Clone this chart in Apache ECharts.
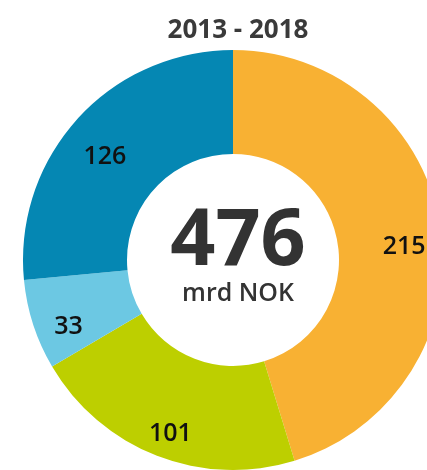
<!DOCTYPE html>
<html>
<head>
<meta charset="utf-8">
<script src="https://cdn.jsdelivr.net/npm/echarts@6/dist/echarts.min.js"></script>
<style>
  html, body { margin: 0; padding: 0; background: #fff; }
  #chart { width: 427px; height: 470px; }
</style>
</head>
<body>
<div id="chart"></div>
<script>
// data
var categories = ['A', 'B', 'C', 'D']
var values = [215, 101, 33, 126]
var colors = ['#F8B133', '#BDCF00', '#6CC8E3', '#0587B3']
var totalLabel = '476'
var unitLabel = 'mrd NOK'
var periodLabel = '2013 - 2018'

var myChart = echarts.init(document.getElementById('chart'))
var font = '"Open Sans", "Noto Sans", sans-serif'

var pieData = categories.map(function (c, i) {
  return { name: c, value: values[i], itemStyle: { color: colors[i] } }
})

var option = {
  animation: false,
  title: [
    {
      text: periodLabel,
      left: 233,
      top: 13,
      textAlign: 'center',
      textStyle: { fontFamily: font, fontSize: 26, fontWeight: 'bold', color: '#3a3a3a' }
    },
    {
      text: totalLabel,
      left: 233,
      top: 198,
      textAlign: 'center',
      textStyle: { fontFamily: font, fontSize: 79, fontWeight: 'bold', color: '#333333' }
    },
    {
      text: unitLabel,
      left: 233,
      top: 276,
      textAlign: 'center',
      textStyle: { fontFamily: font, fontSize: 25, fontWeight: 600, color: '#333333' }
    }
  ],
  series: [
    {
      // the ring
      type: 'pie',
      center: [233, 260],
      radius: [106, 210],
      startAngle: 90,
      clockwise: true,
      silent: true,
      label: { show: false },
      labelLine: { show: false },
      itemStyle: { borderWidth: 0 },
      data: pieData
    },
    {
      // same data, transparent, only to push the labels further out
      type: 'pie',
      center: [233, 260],
      radius: [130, 210],
      startAngle: 90,
      clockwise: true,
      silent: true,
      avoidLabelOverlap: false,
      label: {
        show: true,
        position: 'inside',
        formatter: '{c}',
        offset: [0, 13],
        fontFamily: font,
        fontSize: 25,
        fontWeight: 600,
        color: '#111111'
      },
      labelLine: { show: false },
      itemStyle: { color: 'rgba(0,0,0,0)', borderWidth: 0 },
      data: values.map(function (v, i) { return { name: categories[i], value: v } })
    }
  ]
}

option && myChart.setOption(option)
</script>
</body>
</html>
